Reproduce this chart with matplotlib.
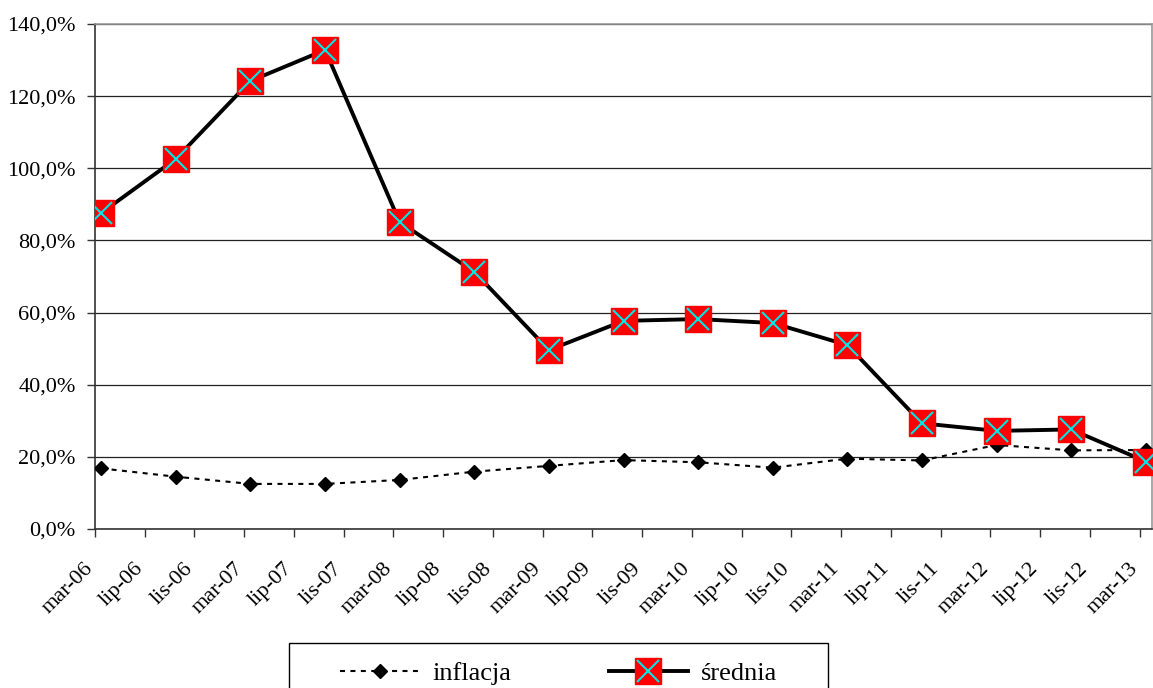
import matplotlib
matplotlib.use('Agg')
import matplotlib.pyplot as plt
import matplotlib.transforms as mtransforms
from matplotlib.patches import Rectangle
from matplotlib.legend_handler import HandlerTuple

plt.rcParams['font.family'] = ['Liberation Serif', 'DejaVu Serif']

# etykiety osi X (co 4 miesiące), indeks miesiąca od mar-06
tick_labels = ['mar-06', 'lip-06', 'lis-06', 'mar-07', 'lip-07', 'lis-07',
               'mar-08', 'lip-08', 'lis-08', 'mar-09', 'lip-09', 'lis-09',
               'mar-10', 'lip-10', 'lis-10', 'mar-11', 'lip-11', 'lis-11',
               'mar-12', 'lip-12', 'lis-12', 'mar-13']
tick_months = [4 * i for i in range(len(tick_labels))]

# punkty danych co pół roku (mar / wrz), numer miesiąca od mar-06
point_months = [0, 6, 12, 18, 24, 30, 36, 42, 48, 54, 60, 66, 72, 78, 84]
srednia = [87.6, 102.6, 124.2, 132.8, 85.1, 71.3, 49.6, 57.7, 58.2, 57.1,
           51.0, 29.3, 27.2, 27.6, 18.7]
inflacja = [16.8, 14.5, 12.5, 12.5, 13.6, 15.9, 17.5, 19.1, 18.5, 17.0,
            19.5, 19.0, 23.3, 21.8, 21.9]

W, H = 1153, 688
fig = plt.figure(figsize=(W / 100, H / 100), dpi=100)
ax = fig.add_axes([95 / W, 1 - 529 / H, (1152 - 95) / W, (529 - 24) / H])

x = [m + 0.5 for m in point_months]

h_inf, = ax.plot(x, inflacja, color='black', lw=1.5, ls=(0, (2.4, 2.6)),
                 marker='D', ms=7.5, mfc='black', mec='black', zorder=3)
h_sr, = ax.plot(x, srednia, color='black', lw=2.8, marker='s', ms=18.5,
                mfc='#ff0000', mec='#ff0000', zorder=4)
h_x, = ax.plot(x, srednia, ls='none', marker='x', ms=16, mew=1.5,
               color='#00e5e5', zorder=5)

ax.set_xlim(0, 85)
ax.set_ylim(0, 140)
ax.set_yticks(range(0, 141, 20))
ax.set_yticklabels([f'{v},0%' for v in range(0, 141, 20)], fontsize=16)
ax.set_xticks(tick_months)
ax.set_xticklabels(tick_labels, rotation=45, ha='right', va='top',
                   rotation_mode='anchor', fontsize=16)
ax.tick_params(axis='both', direction='out', length=6, width=1, color='#333333')
ax.tick_params(axis='x', pad=2)
ax.tick_params(axis='y', pad=8)

# przesunięcie etykiet osi X w lewo/w dół jak w Excelu
shift = mtransforms.ScaledTranslation(-0.11, -0.19, fig.dpi_scale_trans)
for lab in ax.get_xticklabels():
    lab.set_transform(lab.get_transform() + shift)

ax.yaxis.grid(True, color='#222222', lw=0.9)
ax.set_axisbelow(True)
for side in ['left', 'bottom']:
    ax.spines[side].set_color('#333333')
    ax.spines[side].set_linewidth(1.2)
for side in ['top', 'right']:
    ax.spines[side].set_color('#999999')
    ax.spines[side].set_linewidth(1.2)

leg = fig.legend([h_inf, (h_sr, h_x)], ['inflacja', 'średnia'],
                 handler_map={tuple: HandlerTuple(ndivide=1)},
                 loc='upper left', bbox_to_anchor=(340 / W, 1 - 662 / H),
                 ncol=2, fontsize=19, handlelength=3.0, columnspacing=3.7,
                 handletextpad=0.5, borderpad=0, borderaxespad=0,
                 frameon=False)

# ramka legendy (wychodzi poza dolną krawędź obrazka)
fig.patches.append(Rectangle((289 / W, -0.05), (828 - 289) / W, 1 - 643 / H + 0.05,
                             transform=fig.transFigure, fill=False,
                             ec='black', lw=1.0, zorder=0))

fig.savefig('out.png', dpi=100)
